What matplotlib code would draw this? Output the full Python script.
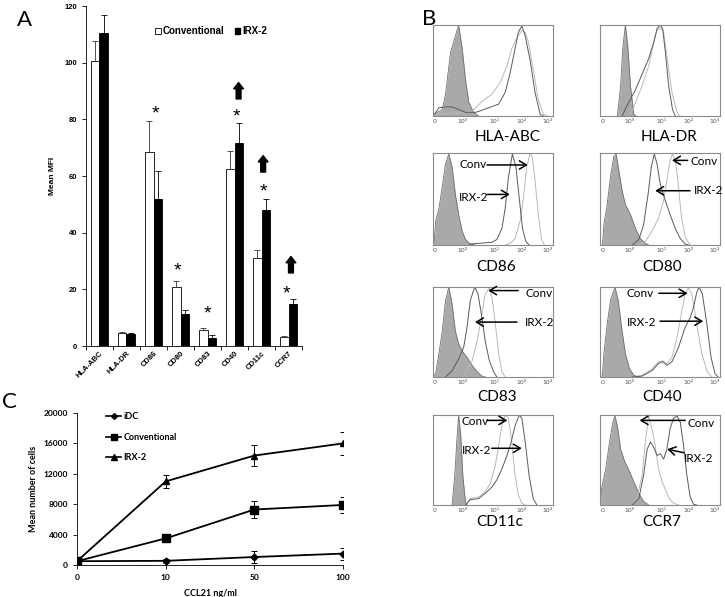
import matplotlib
matplotlib.use('Agg')
import matplotlib.pyplot as plt
import numpy as np
from matplotlib.patches import Patch
from matplotlib.lines import Line2D

# ---- Panel A: mean MFI per marker ----
markers = ['HLA-ABC', 'HLA-DR', 'CD86', 'CD80', 'CD83', 'CD40', 'CD11c', 'CCR7']
conv_mfi = [100.5, 4.7, 68.5, 21.0, 5.8, 62.5, 31.0, 3.2]
conv_err = [7.3, 0.3, 11.0, 2.0, 0.7, 6.5, 3.0, 0.4]
irx_mfi = [110.5, 4.3, 52.0, 11.2, 3.0, 71.5, 48.0, 15.0]
irx_err = [6.5, 0.4, 9.8, 1.6, 0.8, 7.3, 4.0, 1.5]
star_x = [2.06, 2.87, 3.98, 5.09, 6.06, 6.94]
star_y = [82, 26.5, 11.2, 81, 54.5, 18.3]
up_x = [5.15, 6.06, 7.09]
up_y = [87.2, 61.4, 25.8]

# ---- Panel C: migration towards CCL21 ----
ccl21 = ['0', '10', '50', '100']
idc_cells = [500, 550, 1050, 1500]
idc_err = [0, 300, 850, 800]
conv_cells = [500, 3500, 7300, 7900]
conv_cells_err = [0, 200, 1100, 1100]
irx_cells = [500, 11000, 14400, 16000]
irx_cells_err = [0, 850, 1400, 1500]

# ---- Panel B: flow histograms, (log10 fluorescence, % of max) ----
hla_abc_iso = [(-0.92, 0), (-0.83, 3), (-0.61, 7), (-0.5, 24), (-0.33, 70), (-0.17, 88), (-0.06, 100),
               (0.06, 74), (0.17, 40), (0.28, 15), (0.44, 4), (0.61, 0)]
hla_abc_conv = [(-0.89, 1), (-0.5, 3), (0.0, 3), (0.39, 5), (0.72, 16), (1.06, 24), (1.33, 37), (1.56, 55),
                (1.72, 74), (1.89, 86), (2.06, 94), (2.17, 92), (2.28, 81), (2.44, 51), (2.61, 18), (2.78, 2), (2.9, 0)]
hla_abc_irx = [(-0.89, 1), (-0.72, 9), (-0.5, 10), (-0.28, 10), (0.17, 4), (0.5, 4), (0.61, 5), (0.94, 9),
               (1.28, 13), (1.5, 26), (1.67, 48), (1.78, 66), (1.94, 92), (2.06, 99), (2.17, 88), (2.33, 62),
               (2.5, 26), (2.67, 2), (2.78, 0)]

hla_dr_iso = [(-0.34, 0), (-0.23, 33), (-0.16, 74), (-0.07, 100), (0.01, 77), (0.1, 33), (0.21, 2), (0.29, 0)]
hla_dr_conv = [(0.05, 0), (0.16, 6), (0.49, 33), (0.71, 55), (0.88, 81), (0.99, 94), (1.1, 97), (1.21, 92),
               (1.32, 66), (1.49, 26), (1.66, 4), (1.77, 0)]
hla_dr_irx = [(-0.18, 0), (0.04, 15), (0.27, 29), (0.49, 46), (0.71, 63), (0.88, 81), (0.99, 96), (1.1, 100),
              (1.18, 96), (1.27, 70), (1.38, 33), (1.51, 7), (1.6, 0)]

cd86_iso = [(-0.89, 0), (-0.83, 26), (-0.72, 40), (-0.61, 63), (-0.5, 88), (-0.39, 99), (-0.28, 85),
            (-0.17, 55), (-0.06, 33), (0.06, 15), (0.17, 6), (0.33, 1), (0.5, 0)]
cd86_conv = [(1.5, 0), (1.67, 2), (1.83, 7), (2.0, 26), (2.11, 51), (2.22, 85), (2.33, 99), (2.41, 96),
             (2.5, 70), (2.61, 33), (2.72, 6), (2.81, 0)]
cd86_irx = [(0.3, 1), (1.06, 3), (1.22, 6), (1.39, 18), (1.5, 40), (1.61, 74), (1.74, 99), (1.86, 85),
            (1.97, 51), (2.08, 18), (2.19, 4), (2.3, 0)]

cd80_iso = [(-0.84, 0), (-0.79, 22), (-0.68, 44), (-0.57, 74), (-0.46, 96), (-0.38, 99), (-0.29, 81),
            (-0.18, 59), (-0.07, 44), (0.1, 33), (0.27, 18), (0.43, 7), (0.6, 2), (0.71, 0)]
cd80_conv = [(0.38, 0), (0.6, 4), (0.82, 15), (1.04, 29), (1.21, 48), (1.32, 70), (1.43, 92), (1.51, 99),
             (1.6, 92), (1.69, 70), (1.8, 33), (1.93, 9), (2.1, 0)]
cd80_irx = [(0.16, 0), (0.38, 6), (0.54, 22), (0.69, 55), (0.8, 85), (0.9, 99), (0.99, 88), (1.1, 66),
            (1.27, 48), (1.43, 33), (1.6, 18), (1.77, 7), (1.93, 1), (2.04, 0)]

cd83_iso = [(-0.92, 0), (-0.83, 4), (-0.72, 26), (-0.61, 51), (-0.5, 85), (-0.39, 100), (-0.28, 81),
            (-0.17, 51), (-0.06, 37), (0.06, 29), (0.22, 22), (0.39, 13), (0.56, 6), (0.72, 1), (0.83, 0)]
cd83_conv = [(0.06, 0), (0.22, 7), (0.39, 18), (0.56, 40), (0.7, 66), (0.83, 92), (0.97, 99), (1.06, 88),
             (1.17, 59), (1.28, 26), (1.39, 6), (1.5, 0)]
cd83_irx = [(-0.5, 0), (-0.28, 7), (-0.06, 20), (0.11, 33), (0.22, 55), (0.33, 85), (0.48, 100), (0.59, 92),
            (0.7, 70), (0.83, 40), (0.97, 18), (1.11, 6), (1.22, 0)]

cd40_iso = [(-0.9, 0), (-0.84, 2), (-0.79, 26), (-0.68, 59), (-0.57, 85), (-0.42, 100), (-0.31, 85),
            (-0.18, 51), (-0.07, 26), (0.07, 9), (0.21, 2), (0.38, 0)]
cd40_conv = [(0.16, 0), (0.49, 2), (0.82, 9), (1.04, 17), (1.18, 18), (1.32, 15), (1.49, 22), (1.66, 44),
             (1.8, 70), (1.93, 92), (2.04, 99), (2.16, 92), (2.32, 59), (2.49, 26), (2.66, 7), (2.82, 0)]
cd40_irx = [(0.16, 0), (0.49, 1), (0.82, 7), (1.04, 15), (1.18, 17), (1.32, 13), (1.49, 17), (1.71, 33),
            (1.93, 55), (2.1, 66), (2.21, 77), (2.32, 94), (2.4, 100), (2.51, 92), (2.66, 59), (2.8, 22),
            (2.93, 4), (3.04, 0)]

cd11c_iso = [(-0.28, 0), (-0.19, 33), (-0.11, 77), (-0.06, 100), (0.01, 77), (0.08, 33), (0.17, 2), (0.23, 0)]
cd11c_conv = [(0.17, 0), (0.33, 7), (0.61, 9), (0.83, 15), (1.0, 24), (1.17, 44), (1.3, 70), (1.41, 92),
              (1.5, 100), (1.61, 96), (1.72, 70), (1.83, 33), (1.94, 11), (2.06, 2), (2.17, 0)]
cd11c_irx = [(0.17, 0), (0.33, 6), (0.61, 7), (0.83, 13), (1.06, 20), (1.22, 28), (1.39, 40), (1.56, 55),
             (1.7, 70), (1.83, 88), (1.97, 100), (2.06, 96), (2.17, 70), (2.3, 33), (2.44, 7), (2.56, 0)]

ccr7_iso = [(-0.9, 0), (-0.87, 18), (-0.73, 40), (-0.6, 70), (-0.49, 92), (-0.42, 99), (-0.34, 88),
            (-0.23, 62), (-0.09, 48), (0.07, 37), (0.21, 26), (0.38, 13), (0.54, 4), (0.71, 0)]
ccr7_conv = [(0.16, 0), (0.32, 7), (0.49, 33), (0.6, 70), (0.71, 99), (0.82, 85), (0.93, 66), (1.04, 40),
             (1.16, 26), (1.27, 17), (1.4, 7), (1.54, 2), (1.71, 0)]
ccr7_irx = [(0.16, 0), (0.38, 7), (0.54, 33), (0.66, 62), (0.77, 70), (0.88, 64), (0.99, 55), (1.1, 57),
            (1.21, 51), (1.32, 62), (1.43, 85), (1.54, 96), (1.66, 99), (1.77, 92), (1.88, 66), (1.99, 33),
            (2.1, 9), (2.21, 1), (2.32, 0)]

fig = plt.figure(figsize=(7.25, 5.97), dpi=100)
ARIAL = 'Liberation Sans'
CAL = 'Lato'

# ================= Panel A =================
axA = fig.add_axes([0.1186, 0.4204, 0.298, 0.5695])
x = np.arange(len(markers))
axA.bar(x - 0.15, conv_mfi, 0.3, color='white', edgecolor='black', linewidth=0.6)
axA.bar(x + 0.15, irx_mfi, 0.3, color='black', edgecolor='black', linewidth=0.6)
axA.errorbar(x - 0.15, conv_mfi, yerr=[np.zeros(len(x)), conv_err], fmt='none', ecolor='#333333',
             elinewidth=0.6, capsize=2, capthick=0.6)
axA.errorbar(x + 0.15, irx_mfi, yerr=[np.zeros(len(x)), irx_err], fmt='none', ecolor='black',
             elinewidth=0.6, capsize=2, capthick=0.6)
axA.set_xlim(-0.5, 7.5)
axA.set_ylim(0, 120)
axA.set_yticks(range(0, 121, 20))
axA.set_xticks(np.arange(-0.5, 8, 1))
axA.set_xticklabels([])
axA.set_xticks(x, minor=True)
axA.set_xticklabels(markers, minor=True, rotation=45, ha='right', rotation_mode='anchor',
                    fontsize=5.5, fontweight='bold', family=ARIAL)
axA.tick_params(axis='x', which='minor', length=0, pad=3)
axA.tick_params(axis='x', which='major', length=3, width=0.6)
axA.tick_params(axis='y', length=3, width=0.6, labelsize=5.5)
for lab in axA.get_yticklabels():
    lab.set_fontweight('bold')
    lab.set_family(ARIAL)
for side in ['top', 'right']:
    axA.spines[side].set_visible(False)
for side in ['left', 'bottom']:
    axA.spines[side].set_linewidth(0.6)
axA.set_ylabel('Mean MFI', fontsize=6, fontweight='bold', family=ARIAL, labelpad=6)
for sx, sy in zip(star_x, star_y):
    axA.text(sx, sy, '*', fontsize=14, ha='center', va='center', family=ARIAL)
for ux, uy in zip(up_x, up_y):
    axA.annotate('', xy=(ux, uy + 5.8), xytext=(ux, uy),
                 arrowprops=dict(arrowstyle='simple,head_length=0.45,head_width=0.7,tail_width=0.35',
                                 fc='black', ec='black', shrinkA=0, shrinkB=0))
axA.legend(handles=[Patch(facecolor='white', edgecolor='black', linewidth=0.6, label='Conventional'),
                    Patch(facecolor='black', edgecolor='black', label='IRX-2')],
           loc='center', bbox_to_anchor=(0.58, 0.926), ncol=2, frameon=False,
           handlelength=0.6, handleheight=0.6, handletextpad=0.2, columnspacing=1.0,
           prop={'family': ARIAL, 'weight': 'bold', 'size': 7})

# ================= Panel C =================
axC = fig.add_axes([0.1062, 0.0536, 0.367, 0.2546])
xc = np.arange(len(ccl21))
axC.errorbar(xc, idc_cells, yerr=idc_err, color='black', marker='D', markersize=3.5, lw=1.3,
             elinewidth=0.7, capsize=2, capthick=0.7, label='iDC')
axC.errorbar(xc, conv_cells, yerr=conv_cells_err, color='black', marker='s', markersize=6, lw=1.3,
             elinewidth=0.7, capsize=2, capthick=0.7, label='Conventional')
axC.errorbar(xc, irx_cells, yerr=irx_cells_err, color='black', marker='^', markersize=5, lw=1.3,
             elinewidth=0.7, capsize=2, capthick=0.7, label='IRX-2')
axC.set_xlim(0, 3)
axC.set_ylim(0, 20000)
axC.set_yticks(range(0, 20001, 4000))
axC.set_xticks(xc)
axC.set_xticklabels(ccl21)
axC.tick_params(length=3, width=0.6, labelsize=6)
for lab in axC.get_xticklabels() + axC.get_yticklabels():
    lab.set_fontweight('bold')
    lab.set_family(CAL)
for side in ['top', 'right']:
    axC.spines[side].set_visible(False)
for side in ['left', 'bottom']:
    axC.spines[side].set_linewidth(0.6)
axC.set_ylabel('Mean number of cells', fontsize=6.5, fontweight='bold', family=CAL, labelpad=4)
axC.set_xlabel('CCL21 ng/ml', fontsize=6.5, fontweight='bold', family=CAL, labelpad=6)
handles = [Line2D([], [], color='black', marker='D', markersize=3, lw=1.2),
           Line2D([], [], color='black', marker='s', markersize=5, lw=1.2),
           Line2D([], [], color='black', marker='^', markersize=4, lw=1.2)]
axC.legend(handles, ['iDC', 'Conventional', 'IRX-2'], loc='upper left', bbox_to_anchor=(0.08, 1.06),
           frameon=False, handlelength=1.6, handletextpad=0.3, labelspacing=1.3,
           prop={'family': CAL, 'weight': 'bold', 'size': 6.5})

# ================= Panel B =================
b_left = [0.5972, 0.8276]
b_bottom = [0.8057, 0.5896, 0.3685, 0.1541]
b_height = [0.1524, 0.1541, 0.1508, 0.1508]
b_title_y = [137, 267, 397, 522]
b_title_dx = [[15, 9], [3, 2], [4, 2], [7, 2]]
b_panels = [
    ('HLA-ABC', hla_abc_iso, hla_abc_conv, hla_abc_irx, 0, 0),
    ('HLA-DR', hla_dr_iso, hla_dr_conv, hla_dr_irx, 1, 0),
    ('CD86', cd86_iso, cd86_conv, cd86_irx, 0, 1),
    ('CD80', cd80_iso, cd80_conv, cd80_irx, 1, 1),
    ('CD83', cd83_iso, cd83_conv, cd83_irx, 0, 2),
    ('CD40', cd40_iso, cd40_conv, cd40_irx, 1, 2),
    ('CD11c', cd11c_iso, cd11c_conv, cd11c_irx, 0, 3),
    ('CCR7', ccr7_iso, ccr7_conv, ccr7_irx, 1, 3),
]
# arrow labels: (text, text x, text y, tail, head) in axes fraction
b_arrows = {
    'CD86': [('Conv', 0.22, 0.87, (0.45, 0.87), (0.79, 0.87)),
             ('IRX-2', 0.22, 0.52, (0.45, 0.55), (0.64, 0.55))],
    'CD80': [('Conv', 0.75, 0.91, (0.73, 0.92), (0.60, 0.92)),
             ('IRX-2', 0.78, 0.59, (0.75, 0.59), (0.46, 0.59))],
    'CD83': [('Conv', 0.77, 0.93, (0.71, 0.96), (0.46, 0.96)),
             ('IRX-2', 0.77, 0.61, (0.70, 0.61), (0.35, 0.61))],
    'CD40': [('Conv', 0.22, 0.93, (0.49, 0.93), (0.73, 0.93)),
             ('IRX-2', 0.22, 0.60, (0.50, 0.62), (0.86, 0.62))],
    'CD11c': [('Conv', 0.24, 0.93, (0.45, 0.94), (0.62, 0.94)),
              ('IRX-2', 0.24, 0.60, (0.49, 0.63), (0.74, 0.63))],
    'CCR7': [('Conv', 0.73, 0.91, (0.71, 0.94), (0.33, 0.94)),
             ('IRX-2', 0.70, 0.52, (0.70, 0.58), (0.56, 0.62))],
}
for name, iso, conv, irx, col, row in b_panels:
    ax = fig.add_axes([b_left[col], b_bottom[row], 0.1655, b_height[row]])
    ix, iy = zip(*iso)
    ax.fill_between(ix, iy, color='#a9a9a9', lw=0)
    ax.plot(ix, iy, color='#707070', lw=0.6)
    cx, cy = zip(*conv)
    ax.plot(cx, cy, color='#b8b8b8', lw=0.7)
    rx, ry = zip(*irx)
    ax.plot(rx, ry, color='#5a5a5a', lw=0.7)
    ax.set_xlim(-0.92, 3.1)
    ax.set_ylim(0, 100)
    ax.set_yticks([])
    ax.set_xticks([-0.85, 0.08, 1.14, 2.05, 2.93])
    ax.set_xticklabels(['0', '10⁰', '10¹', '10²', '10³'], fontsize=4.5, color='#555555',
                       family='DejaVu Sans')
    ax.tick_params(axis='x', length=0, pad=2.5)
    for sp in ax.spines.values():
        sp.set_color('#8a8a8a')
        sp.set_linewidth(0.8)
    cx_fig = b_left[col] + 0.1655 / 2 + b_title_dx[row][col] / 725
    fig.text(cx_fig, 1 - b_title_y[row] / 597, name, fontsize=11, family=CAL,
             ha='center', va='center')
    for txt, tx, ty, tail, head in b_arrows.get(name, []):
        ax.text(tx, ty, txt, transform=ax.transAxes, fontsize=8.5, family=CAL, va='center', ha='left')
        ax.annotate('', xy=head, xytext=tail, xycoords='axes fraction', textcoords='axes fraction',
                    arrowprops=dict(arrowstyle='->,head_length=0.5,head_width=0.3', lw=1.1,
                                    color='black', shrinkA=0, shrinkB=0))

# panel letters
fig.text(0.034, 0.966, 'A', fontsize=16, family=CAL, ha='center', va='center')
fig.text(0.592, 0.969, 'B', fontsize=16, family=CAL, ha='center', va='center')
fig.text(0.013, 0.327, 'C', fontsize=16, family=CAL, ha='center', va='center')

fig.savefig('out.png', dpi=100)
